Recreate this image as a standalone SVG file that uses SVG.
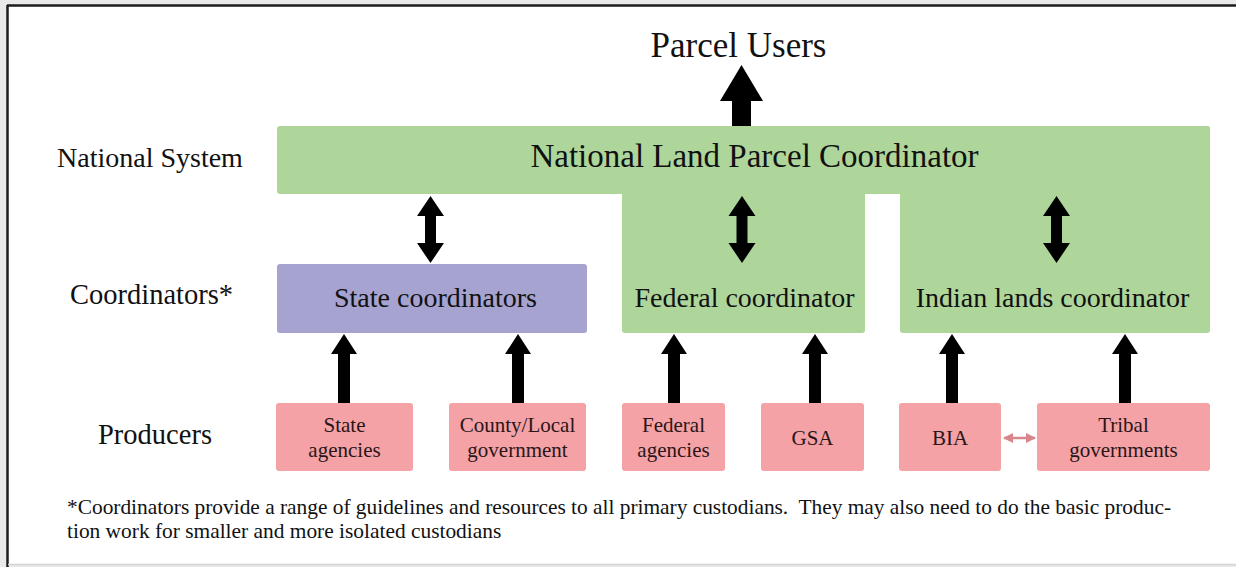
<svg xmlns="http://www.w3.org/2000/svg" width="1236" height="567" viewBox="0 0 1236 567">
<defs>
<style>
text{font-family:"Liberation Serif","Times New Roman",serif;fill:#111}
.lbl{font-size:28.5px}
.coord{font-size:28px;text-anchor:middle}
.prod{font-size:21px;text-anchor:middle;fill:#2a1618}
.green{fill:#aed69b}
.purple{fill:#a6a3d0}
.pink{fill:#f4a2a6}
.blk{fill:#000}
</style>
<marker id="ph" viewBox="0 0 10 10" refX="9" refY="5" markerWidth="4" markerHeight="4" orient="auto-start-reverse">
<path d="M0,0 L10,5 L0,10 Z" fill="#d8858b"/>
</marker>
</defs>
<rect x="0" y="0" width="1236" height="567" fill="#e9e9e9"/>
<rect x="7" y="5" width="1229" height="559" fill="#fff"/>
<line x1="7" y1="5.5" x2="1236" y2="5.5" stroke="#1c1c1c" stroke-width="2.5"/>
<line x1="7.5" y1="5" x2="7.5" y2="567" stroke="#1c1c1c" stroke-width="2.5"/>
<line x1="8" y1="564.5" x2="1236" y2="564.5" stroke="#d4d4d4" stroke-width="1.5"/>

<g id="parcel-users"><text x="738.5" y="57" font-size="35" text-anchor="middle">Parcel Users</text></g>
<g id="row-labels">
<text x="57" y="167" font-size="28">National System</text>
<text class="lbl" x="70" y="304">Coordinators*</text>
<text class="lbl" x="98" y="444">Producers</text>
</g>

<g id="federal-coordinator">
<rect class="green" x="622" y="126" width="243" height="207" rx="3"/>
<text class="coord" x="744.5" y="307">Federal coordinator</text>
</g>
<g id="indian-coordinator">
<rect class="green" x="900" y="126" width="310" height="207" rx="3"/>
<text class="coord" x="1052.5" y="307">Indian lands coordinator</text>
</g>
<g id="national-coordinator">
<rect class="green" x="277" y="126" width="933" height="68" rx="3"/>
<text x="754.5" y="167" font-size="33" text-anchor="middle">National Land Parcel Coordinator</text>
</g>
<g id="state-coordinators">
<rect class="purple" x="277" y="264" width="310" height="69" rx="3"/>
<text class="coord" x="435.5" y="307">State coordinators</text>
</g>

<g id="state-agencies"><rect class="pink" x="276" y="403" width="137" height="68" rx="3"/>
<text class="prod" x="344.5" y="432">State</text><text class="prod" x="344.5" y="457">agencies</text></g>
<g id="county-local"><rect class="pink" x="449" y="403" width="137" height="68" rx="3"/>
<text class="prod" x="517.5" y="432">County/Local</text><text class="prod" x="517.5" y="457">government</text></g>
<g id="federal-agencies"><rect class="pink" x="622" y="403" width="103" height="68" rx="3"/>
<text class="prod" x="673.5" y="432">Federal</text><text class="prod" x="673.5" y="457">agencies</text></g>
<g id="gsa"><rect class="pink" x="761" y="403" width="103" height="68" rx="3"/>
<text class="prod" x="812.5" y="445">GSA</text></g>
<g id="bia"><rect class="pink" x="899" y="403" width="102" height="68" rx="3"/>
<text class="prod" x="950" y="445">BIA</text></g>
<g id="tribal"><rect class="pink" x="1037" y="403" width="173" height="68" rx="3"/>
<text class="prod" x="1123.5" y="432">Tribal</text><text class="prod" x="1123.5" y="457">governments</text></g>

<g id="footnote">
<text x="67" y="514" font-size="21.4" style="white-space:pre" textLength="1104" lengthAdjust="spacing">*Coordinators provide a range of guidelines and resources to all primary custodians.  They may also need to do the basic produc-</text>
<text x="67" y="538" font-size="21.4">tion work for smaller and more isolated custodians</text>
</g>

<g id="connectors">
<polygon class="blk" points="732,126 732,101 720,101 741.5,65 763,101 751,101 751,126"/>
<polygon class="blk" points="430.5,196 444,216 436,216 436,243 444,243 430.5,263 417,243 425,243 425,216 417,216"/>
<polygon class="blk" points="742,196 755.5,216 747.5,216 747.5,243 755.5,243 742,263 728.5,243 736.5,243 736.5,216 728.5,216"/>
<polygon class="blk" points="1056.5,196 1070,216 1062,216 1062,243 1070,243 1056.5,263 1043,243 1051,243 1051,216 1043,216"/>
<polygon class="blk" points="344,334 357,354 350,354 350,403 338,403 338,354 331,354"/>
<polygon class="blk" points="518,334 531,354 524,354 524,403 512,403 512,354 505,354"/>
<polygon class="blk" points="674,334 687,354 680,354 680,403 668,403 668,354 661,354"/>
<polygon class="blk" points="815,334 828,354 821,354 821,403 809,403 809,354 802,354"/>
<polygon class="blk" points="952,334 965,354 958,354 958,403 946,403 946,354 939,354"/>
<polygon class="blk" points="1125,334 1138,354 1131,354 1131,403 1119,403 1119,354 1112,354"/>
<line x1="1004" y1="438" x2="1035" y2="438" stroke="#d8858b" stroke-width="2.5" marker-start="url(#ph)" marker-end="url(#ph)"/>
</g>
</svg>
